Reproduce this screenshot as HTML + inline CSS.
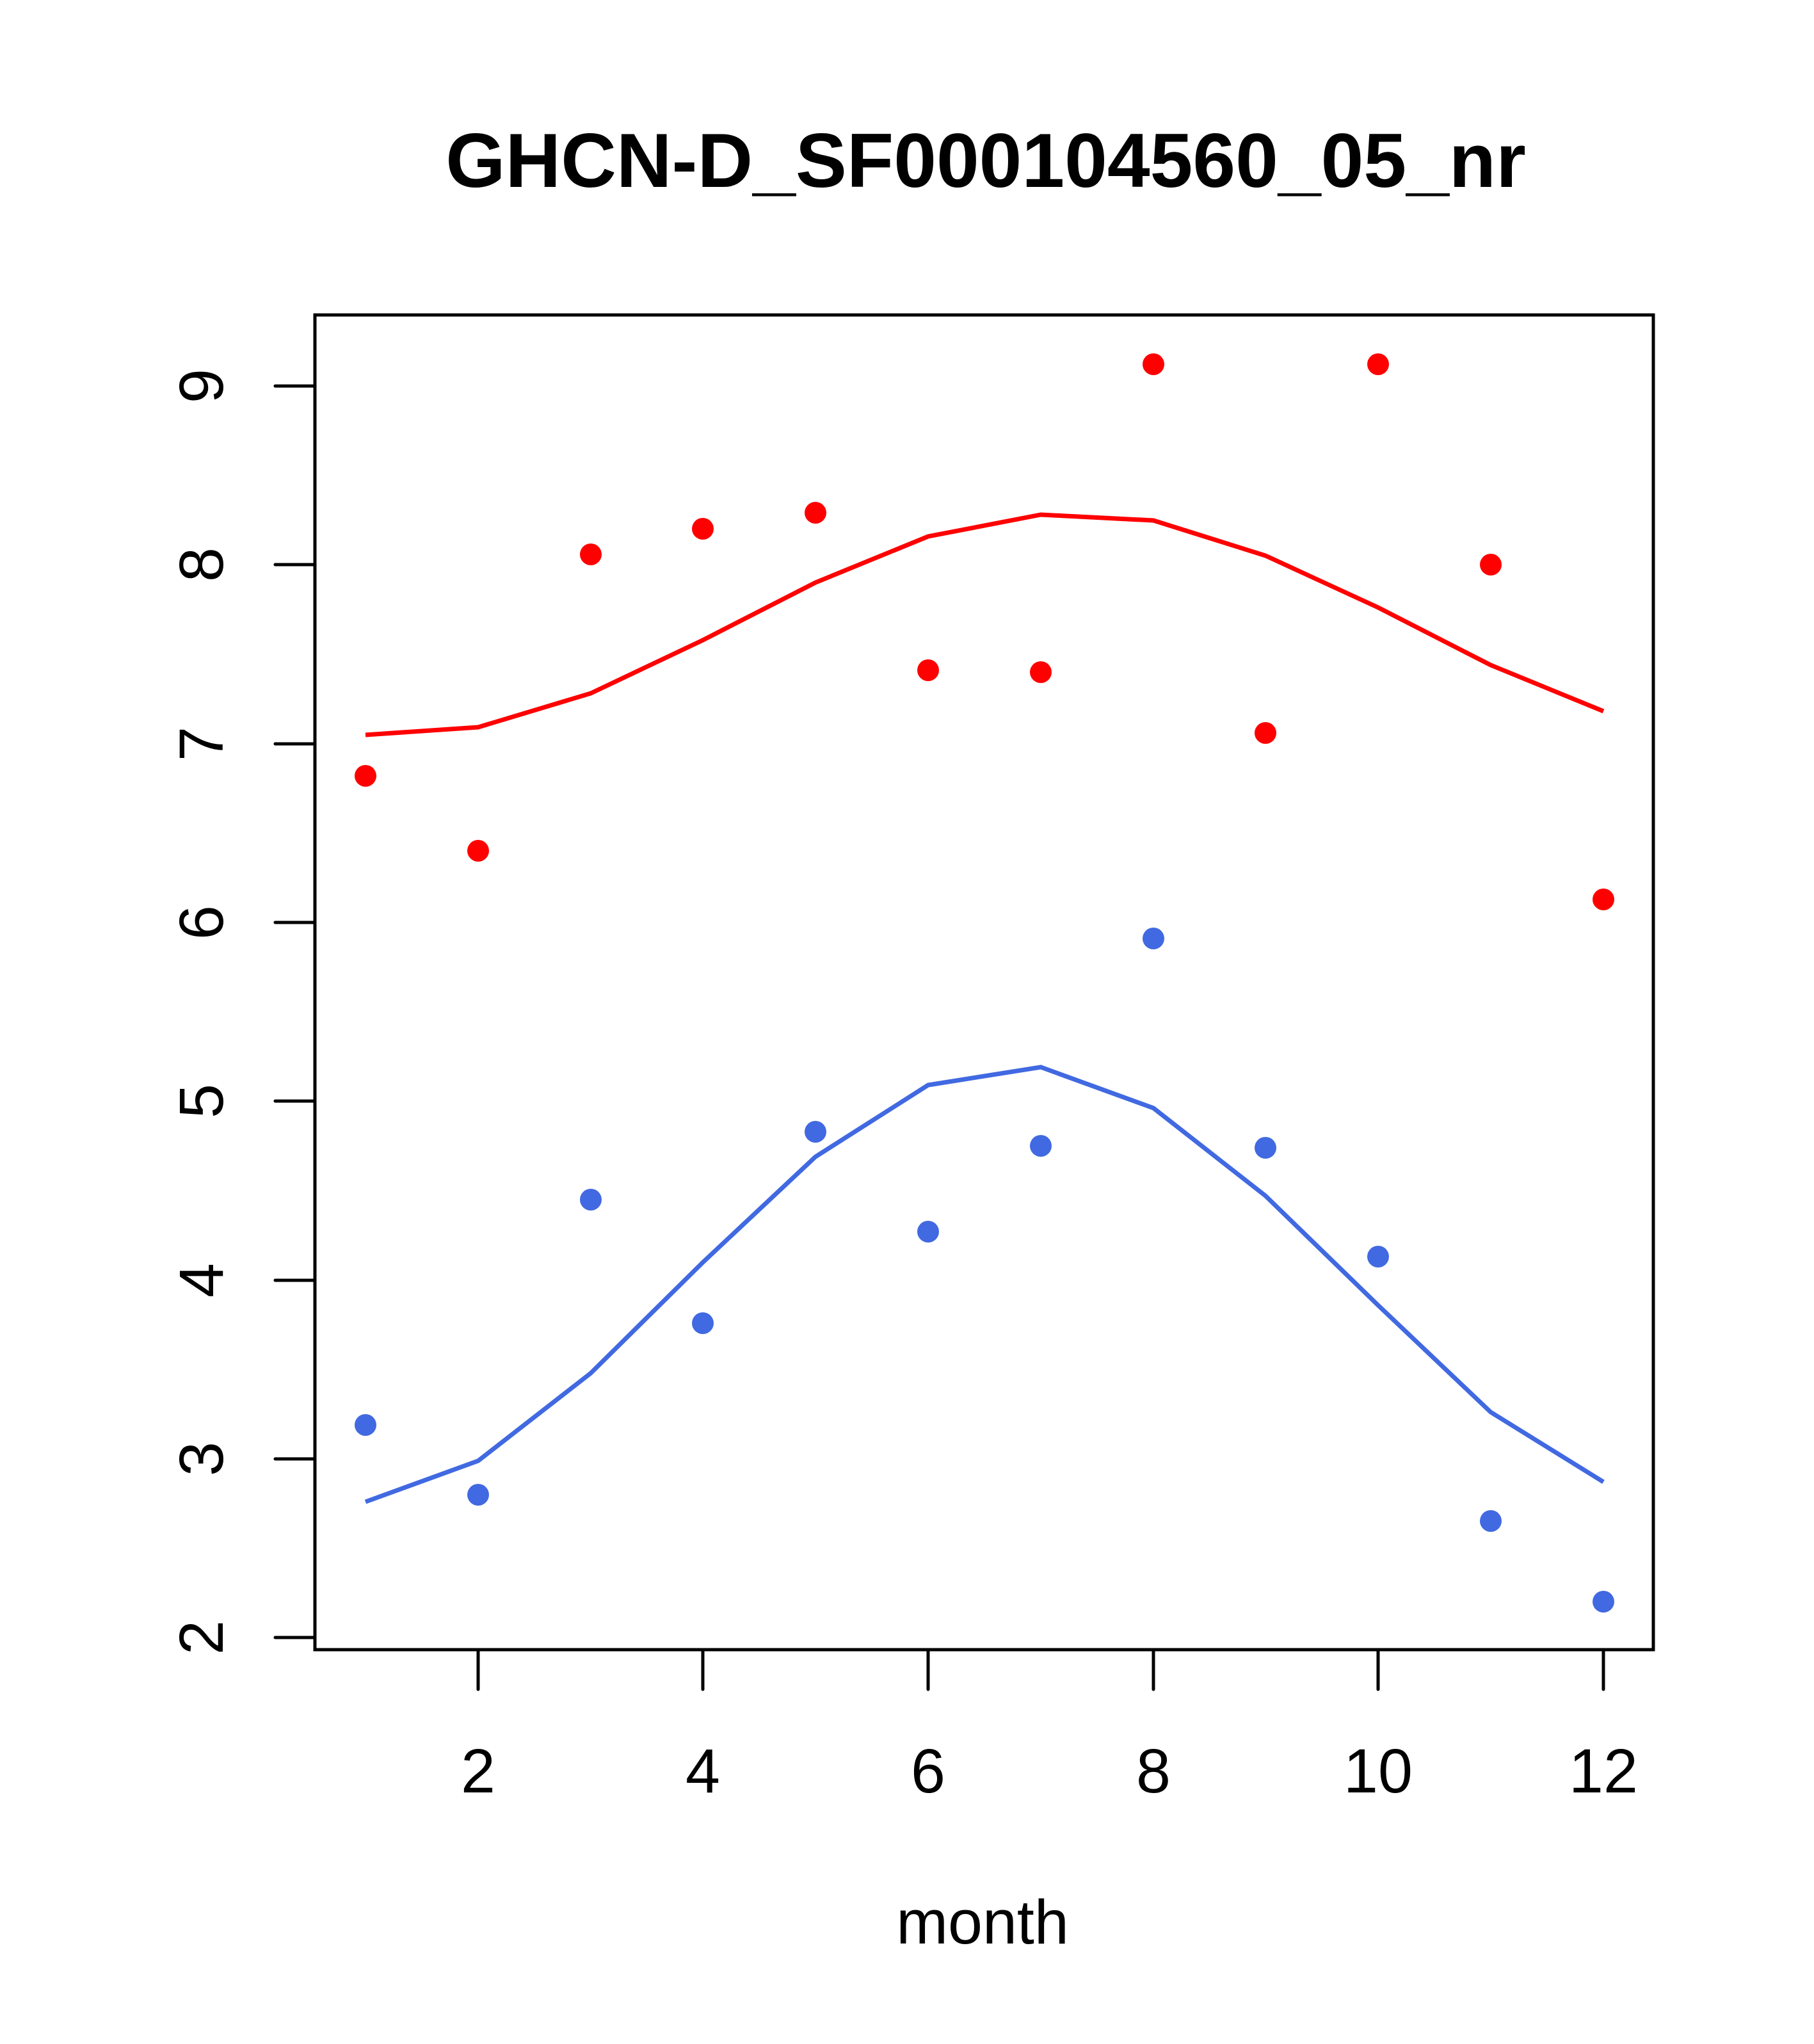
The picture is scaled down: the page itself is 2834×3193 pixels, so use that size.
<!DOCTYPE html>
<html><head><style>html,body{margin:0;padding:0;background:#fff}</style></head>
<body>
<svg width="2834" height="3188" viewBox="0 0 2834 3188" xmlns="http://www.w3.org/2000/svg" font-family="Liberation Sans, sans-serif">
<rect width="2834" height="3188" fill="#fff"/>
<text x="1540" y="292" font-size="120" font-weight="bold" text-anchor="middle">GHCN-D_SF000104560_05_nr</text>
<rect x="492" y="492" width="2091" height="2085" fill="none" stroke="#000" stroke-width="5"/>
<g stroke="#000" stroke-width="5" stroke-linecap="round">
<line x1="747" y1="2577" x2="747" y2="2639"/><line x1="1098" y1="2577" x2="1098" y2="2639"/>
<line x1="1450" y1="2577" x2="1450" y2="2639"/><line x1="1802" y1="2577" x2="1802" y2="2639"/>
<line x1="2153" y1="2577" x2="2153" y2="2639"/><line x1="2505" y1="2577" x2="2505" y2="2639"/>
<line x1="430" y1="603" x2="492" y2="603"/><line x1="430" y1="882" x2="492" y2="882"/>
<line x1="430" y1="1162" x2="492" y2="1162"/><line x1="430" y1="1441" x2="492" y2="1441"/>
<line x1="430" y1="1720" x2="492" y2="1720"/><line x1="430" y1="2000" x2="492" y2="2000"/>
<line x1="430" y1="2279" x2="492" y2="2279"/><line x1="430" y1="2558" x2="492" y2="2558"/>
</g>
<g font-size="97" text-anchor="middle">
<text x="747" y="2800">2</text><text x="1098" y="2800">4</text><text x="1450" y="2800">6</text>
<text x="1802" y="2800">8</text><text x="2153" y="2800">10</text><text x="2505" y="2800">12</text>
<text x="1535" y="3036">month</text>
<g transform="rotate(-90)">
<text x="-603" y="348">9</text><text x="-882" y="348">8</text><text x="-1162" y="348">7</text>
<text x="-1441" y="348">6</text><text x="-1720" y="348">5</text><text x="-2000" y="348">4</text>
<text x="-2279" y="348">3</text><text x="-2558" y="348">2</text>
</g></g>
<polyline fill="none" stroke="#ff0000" stroke-width="7" points="571,1148 747,1136 923,1083 1098,1000 1274,910 1450,838 1626,804 1802,813 1977,868 2153,949 2329,1039 2505,1111"/>
<polyline fill="none" stroke="#4169e1" stroke-width="7" points="571,2346 747,2282 923,2145 1098,1972 1274,1807 1450,1695 1626,1667 1802,1731 1977,1868 2153,2039 2329,2206 2505,2315"/>
<g fill="#ff0000">
<circle cx="571" cy="1212" r="17"/><circle cx="747" cy="1329" r="17"/><circle cx="923" cy="866" r="17"/>
<circle cx="1098" cy="826" r="17"/><circle cx="1274" cy="801" r="17"/><circle cx="1450" cy="1047" r="17"/>
<circle cx="1626" cy="1050" r="17"/><circle cx="1802" cy="569" r="17"/><circle cx="1977" cy="1145" r="17"/>
<circle cx="2153" cy="569" r="17"/><circle cx="2329" cy="882" r="17"/><circle cx="2505" cy="1405" r="17"/>
</g>
<g fill="#4169e1">
<circle cx="571" cy="2226" r="17"/><circle cx="747" cy="2335" r="17"/><circle cx="923" cy="1874" r="17"/>
<circle cx="1098" cy="2067" r="17"/><circle cx="1274" cy="1768" r="17"/><circle cx="1450" cy="1924" r="17"/>
<circle cx="1626" cy="1790" r="17"/><circle cx="1802" cy="1466" r="17"/><circle cx="1977" cy="1793" r="17"/>
<circle cx="2153" cy="1963" r="17"/><circle cx="2329" cy="2376" r="17"/><circle cx="2505" cy="2502" r="17"/>
</g>
</svg>
</body></html>
